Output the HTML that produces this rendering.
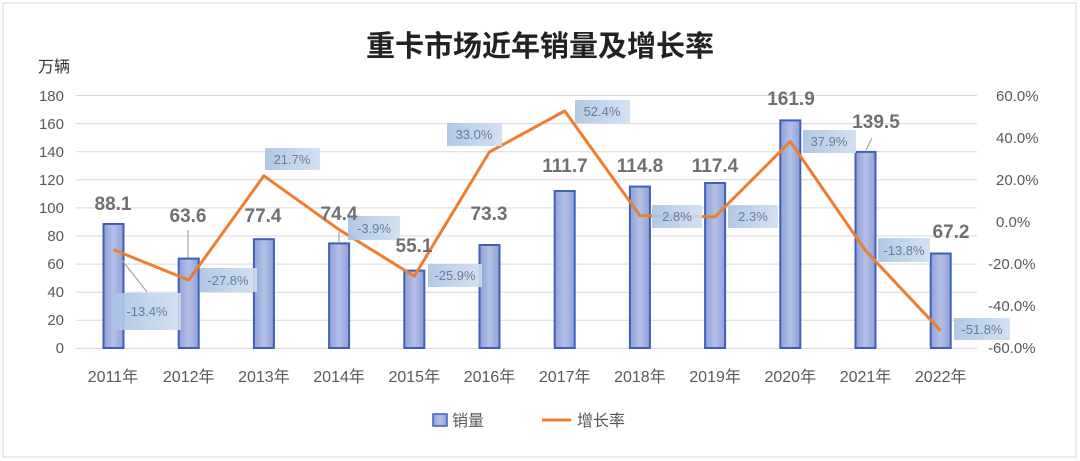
<!DOCTYPE html>
<html><head><meta charset="utf-8"><style>
body{margin:0;background:#fff}
svg{display:block;font-family:"Liberation Sans","Noto Sans CJK SC",sans-serif}
</style></head><body>
<svg width="1080" height="461" viewBox="0 0 1080 461">
<defs>
<linearGradient id="bg" x1="0" x2="1" y1="0" y2="0"><stop offset="0" stop-color="#8ea0d8"/><stop offset="0.5" stop-color="#b4c0e6"/><stop offset="1" stop-color="#8ea0d8"/></linearGradient>
<linearGradient id="lb" x1="0" x2="1" y1="0" y2="0"><stop offset="0" stop-color="#a9c3e3"/><stop offset="1" stop-color="#cfdff0"/></linearGradient>
</defs>
<rect x="3" y="3" width="1073" height="454" fill="#fff" stroke="#d9d9d9"/>
<text x="540" y="56" text-anchor="middle" font-size="29" font-weight="bold" fill="#222">重卡市场近年销量及增长率</text>
<text x="38" y="72" font-size="16" fill="#333">万辆</text>
<g stroke="#d9d9d9" stroke-width="1">
<line x1="76" x2="977" y1="95.5" y2="95.5"/><line x1="76" x2="977" y1="123.6" y2="123.6"/><line x1="76" x2="977" y1="151.7" y2="151.7"/><line x1="76" x2="977" y1="179.8" y2="179.8"/><line x1="76" x2="977" y1="207.9" y2="207.9"/><line x1="76" x2="977" y1="236" y2="236"/><line x1="76" x2="977" y1="264.1" y2="264.1"/><line x1="76" x2="977" y1="292.2" y2="292.2"/><line x1="76" x2="977" y1="320.3" y2="320.3"/><line x1="76" x2="977" y1="348.4" y2="348.4"/>
</g>
<g font-size="15" fill="#595959" text-anchor="end">
<text x="64" y="101">180</text><text x="64" y="129">160</text><text x="64" y="157">140</text><text x="64" y="185">120</text><text x="64" y="213">100</text><text x="64" y="241">80</text><text x="64" y="269">60</text><text x="64" y="297">40</text><text x="64" y="325">20</text><text x="64" y="353">0</text>
</g>
<g font-size="15" fill="#595959">
<text x="996" y="101">60.0%</text><text x="996" y="143">40.0%</text><text x="996" y="185">20.0%</text><text x="996" y="227">0.0%</text><text x="988" y="269">-20.0%</text><text x="988" y="311">-40.0%</text><text x="988" y="353">-60.0%</text>
</g>
<g fill="url(#bg)" stroke="#3f5fb8" stroke-width="2">
<rect x="103.5" y="224" width="20" height="124"/>
<rect x="178.7" y="258.6" width="20" height="89.4"/>
<rect x="253.9" y="239.2" width="20" height="108.8"/>
<rect x="329.1" y="243.4" width="20" height="104.6"/>
<rect x="404.3" y="270.6" width="20" height="77.4"/>
<rect x="479.5" y="245" width="20" height="103"/>
<rect x="554.7" y="191" width="20" height="157"/>
<rect x="629.9" y="186.6" width="20" height="161.4"/>
<rect x="705.1" y="183" width="20" height="165"/>
<rect x="780.3" y="120.4" width="20" height="227.6"/>
<rect x="855.5" y="151.9" width="20" height="196.1"/>
<rect x="930.7" y="253.5" width="20" height="94.5"/>
</g>
<g stroke="#a6a6a6" stroke-width="1.2">
<line x1="118" y1="255" x2="147" y2="292"/><line x1="188" y1="230" x2="188" y2="258"/><line x1="339" y1="232" x2="339" y2="243"/><line x1="866" y1="150" x2="872" y2="138"/>
</g>
<polyline fill="none" stroke="#ed7d31" stroke-width="3" stroke-linejoin="round" points="113.5,249.7 188.7,280.1 263.9,175.8 339.1,229.7 414.3,276.1 489.5,151.9 564.7,111 639.9,215.6 715.1,216.7 790.3,141.6 865.5,250.6 940.7,330.7"/>
<g fill="url(#lb)" opacity="0.9">
<rect x="113" y="293" width="68" height="37"/>
<rect x="200" y="268" width="57" height="24"/>
<rect x="265" y="148" width="55" height="22"/>
<rect x="348" y="216" width="52" height="24"/>
<rect x="428" y="264" width="54" height="23"/>
<rect x="447" y="123" width="55" height="23"/>
<rect x="575" y="100" width="55" height="23"/>
<rect x="652" y="205" width="50" height="23"/>
<rect x="728" y="205" width="50" height="23"/>
<rect x="803" y="130" width="53" height="23"/>
<rect x="878" y="238" width="52" height="24"/>
<rect x="954" y="318" width="56" height="22"/>
</g>
<g font-size="13" fill="#6b7b9c" text-anchor="middle">
<text x="147" y="316">-13.4%</text><text x="228" y="285">-27.8%</text><text x="292" y="164">21.7%</text><text x="374" y="233">-3.9%</text><text x="455" y="280">-25.9%</text><text x="474" y="139">33.0%</text><text x="602" y="116">52.4%</text><text x="677" y="221">2.8%</text><text x="753" y="221">2.3%</text><text x="829" y="146">37.9%</text><text x="904" y="255">-13.8%</text><text x="982" y="334">-51.8%</text>
</g>
<g font-size="19" font-weight="bold" fill="#707070" text-anchor="middle">
<text x="113" y="210">88.1</text><text x="188" y="222">63.6</text><text x="263" y="222">77.4</text><text x="339" y="220">74.4</text><text x="414" y="252">55.1</text><text x="489" y="220">73.3</text><text x="565" y="172">111.7</text><text x="640" y="172">114.8</text><text x="715" y="172">117.4</text><text x="791" y="105">161.9</text><text x="876" y="128">139.5</text><text x="951" y="238">67.2</text>
</g>
<g font-size="16" fill="#595959" text-anchor="middle">
<text x="113" y="382">2011年</text><text x="188.7" y="382">2012年</text><text x="263.9" y="382">2013年</text><text x="339.1" y="382">2014年</text><text x="414.3" y="382">2015年</text><text x="489.5" y="382">2016年</text><text x="564.7" y="382">2017年</text><text x="639.9" y="382">2018年</text><text x="715.1" y="382">2019年</text><text x="790.3" y="382">2020年</text><text x="865.5" y="382">2021年</text><text x="940.7" y="382">2022年</text>
</g>
<rect x="433" y="414" width="14" height="12" fill="url(#bg)" stroke="#3f5fb8" stroke-width="1.5"/>
<text x="452" y="426" font-size="16" fill="#595959">销量</text>
<line x1="542" y1="420" x2="571" y2="420" stroke="#ed7d31" stroke-width="3"/>
<text x="577" y="426" font-size="16" fill="#595959">增长率</text>
</svg>
</body></html>
